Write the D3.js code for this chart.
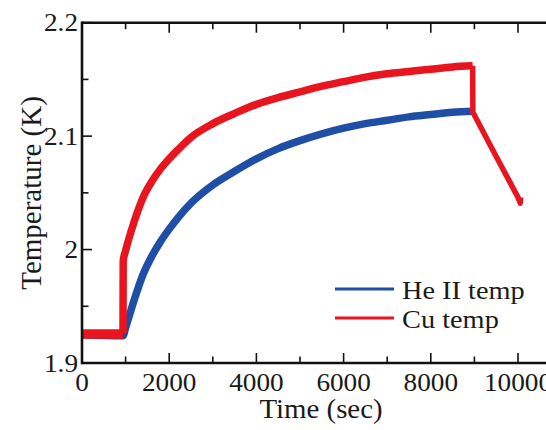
<!DOCTYPE html>
<html><head><meta charset="utf-8">
<script src="https://cdn.jsdelivr.net/npm/d3@7"></script>
<style>
body{margin:0;background:#fff}
svg{display:block}
</style>
</head><body>
<svg id="c" width="546" height="430"></svg>
<script>
// ---- data ----
const xTicks = [0, 2000, 4000, 6000, 8000, 10000];
const xMinor = [1000, 3000, 5000, 7000, 9000];
const yTicks = [1.9, 2.0, 2.1, 2.2];
const yMinor = [1.95, 2.05, 2.15];
const yTickLabels = ["1.9", "2", "2.1", "2.2"];

const heTime = [0, 940, 1000, 1200, 1400, 1600, 1800, 2000, 2200, 2500, 3000, 3500, 4000, 4500, 5000, 5500, 6000, 6500, 7000, 7500, 8000, 8500, 8960];
const heTemp = [1.925, 1.924, 1.931, 1.956, 1.978, 1.994, 2.007, 2.018, 2.028, 2.041, 2.057, 2.069, 2.080, 2.089, 2.096, 2.102, 2.107, 2.111, 2.114, 2.117, 2.119, 2.121, 2.122];

const cuFlatTime = [0, 940];
const cuFlatTemp = [1.9255, 1.9255];
const cuTime = [940, 945, 1000, 1200, 1400, 1600, 1800, 2000, 2200, 2500, 3000, 3500, 4000, 4500, 5000, 5500, 6000, 6500, 7000, 7500, 8000, 8500, 8960];
const cuTemp = [1.926, 1.990, 1.999, 2.025, 2.046, 2.060, 2.071, 2.080, 2.088, 2.099, 2.111, 2.120, 2.128, 2.134, 2.139, 2.144, 2.148, 2.152, 2.155, 2.157, 2.159, 2.161, 2.162];
const cuCoolTime = [8960, 8965, 9500, 10000, 10050, 10060];
const cuCoolTemp = [2.162, 2.121, 2.082, 2.046, 2.041, 2.046];

const seriesNames = ["He II temp", "Cu temp"];
const seriesColors = ["#1f4ea6", "#e8141e"];

// ---- layout ----
const FONT = "'Liberation Serif', 'Times New Roman', serif";
const SX = 1.09; // horizontal glyph stretch seen in the reference
const svg = d3.select("#c");
const mLeft = 82, mTop = 22.7, mBottom = 363;
const x = d3.scaleLinear().domain([0, 11000]).range([mLeft, mLeft + 11 * 43.6]);
const y = d3.scaleLinear().domain([1.9, 2.2]).range([mBottom, mTop]);

const line = (xs, ys, curve) => d3.line().curve(curve || d3.curveLinear)
  .x((d, i) => x(xs[i])).y((d, i) => y(ys[i]))(xs);

// series
svg.append("path").attr("d", line(heTime, heTemp, d3.curveMonotoneX)).attr("fill", "none")
  .attr("stroke", seriesColors[0]).attr("stroke-width", 7.5).attr("stroke-linejoin", "round");
svg.append("path").attr("d", line(cuFlatTime, cuFlatTemp)).attr("fill", "none")
  .attr("stroke", seriesColors[1]).attr("stroke-width", 9.5);
svg.append("path").attr("d", line(cuTime, cuTemp, d3.curveMonotoneX)).attr("fill", "none")
  .attr("stroke", seriesColors[1]).attr("stroke-width", 7.5).attr("stroke-linejoin", "round");
svg.append("path").attr("d", line(cuCoolTime, cuCoolTemp)).attr("fill", "none")
  .attr("stroke", seriesColors[1]).attr("stroke-width", 5.5).attr("stroke-linejoin", "round");

// frame
const frameColor = "#111";
svg.append("line").attr("x1", mLeft).attr("x2", 600).attr("y1", mTop).attr("y2", mTop).attr("stroke", frameColor).attr("stroke-width", 2.6);
svg.append("line").attr("x1", mLeft).attr("x2", 600).attr("y1", mBottom).attr("y2", mBottom).attr("stroke", frameColor).attr("stroke-width", 2.6);
svg.append("line").attr("x1", mLeft).attr("x2", mLeft).attr("y1", mTop - 1.3).attr("y2", mBottom + 1.3).attr("stroke", frameColor).attr("stroke-width", 2.6);

// ticks (bottom and top, inward)
const tg = svg.append("g").attr("stroke", frameColor).attr("stroke-width", 1.6);
xTicks.concat(xMinor).forEach(t => {
  const len = xTicks.includes(t) ? 10 : 6.5;
  tg.append("line").attr("x1", x(t)).attr("x2", x(t)).attr("y1", mBottom).attr("y2", mBottom - len);
  tg.append("line").attr("x1", x(t)).attr("x2", x(t)).attr("y1", mTop).attr("y2", mTop + len);
});
yTicks.concat(yMinor).forEach(v => {
  const len = yTicks.some(t => Math.abs(t - v) < 1e-9) ? 10 : 6.5;
  tg.append("line").attr("x1", mLeft).attr("x2", mLeft + len).attr("y1", y(v)).attr("y2", y(v));
});

function label(px, py, str, size, anchor) {
  return svg.append("text")
    .attr("transform", `translate(${px},${py}) scale(${SX},1)`)
    .attr("text-anchor", anchor || "start")
    .attr("font-family", FONT).attr("fill", "#1a1a1a")
    .attr("font-size", size).text(str);
}

// tick labels
xTicks.forEach(d => label(x(d), 391, d3.format("d")(d), 25, "middle"));
yTicks.forEach((d, i) => label(78, y(d) + (i === 0 ? 9 : 8.5), yTickLabels[i], 25, "end"));

// axis titles
label(321, 418, "Time (sec)", 26.5, "middle");
svg.append("text").attr("transform", "translate(41,193) rotate(-90)").attr("text-anchor", "middle")
  .attr("font-family", FONT).attr("fill", "#1a1a1a")
  .attr("font-size", 29).text("Temperature (K)");

// legend
seriesNames.forEach((name, i) => {
  const yy = 289 + i * 29;
  svg.append("line").attr("x1", 335).attr("x2", 394).attr("y1", yy).attr("y2", yy)
    .attr("stroke", seriesColors[i]).attr("stroke-width", 3.2);
  label(402, yy + 10, name, 26, "start");
});
</script>
</body></html>
